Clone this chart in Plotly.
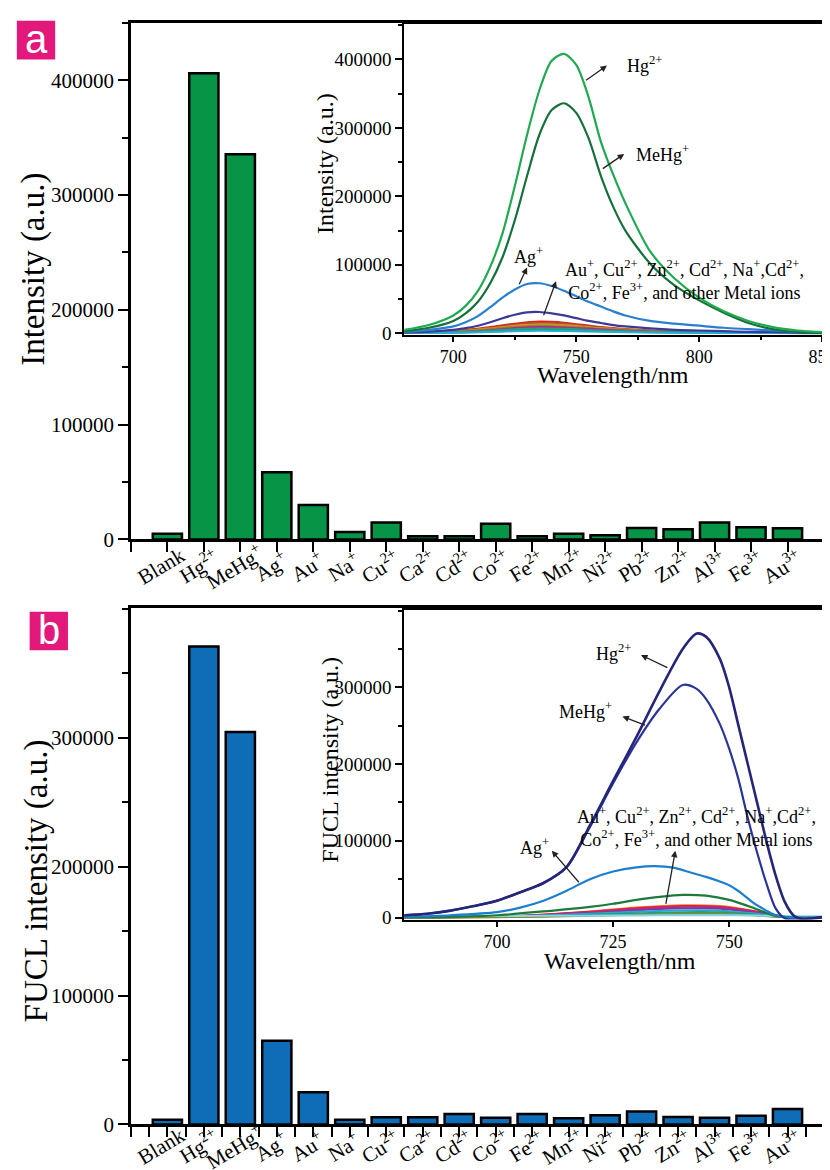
import plotly.graph_objects as go

# ---------------- data ----------------
CATEGORIES = ["Blank", "Hg<sup>2+</sup>", "MeHg<sup>+</sup>", "Ag<sup>+</sup>", "Au<sup>+</sup>",
              "Na<sup>+</sup>", "Cu<sup>2+</sup>", "Ca<sup>2+</sup>", "Cd<sup>2+</sup>", "Co<sup>2+</sup>",
              "Fe<sup>2+</sup>", "Mn<sup>2+</sup>", "Ni<sup>2+</sup>", "Pb<sup>2+</sup>", "Zn<sup>2+</sup>",
              "Al<sup>3+</sup>", "Fe<sup>3+</sup>", "Au<sup>3+</sup>"]
INTENSITY_A = [5000, 406000, 335500, 58500, 30000, 6600, 14700, 2900, 2900, 13800,
               2900, 5000, 3800, 10000, 9000, 14700, 10600, 9700]
FUCL_B = [3600, 371000, 304500, 65000, 25000, 3600, 5600, 5600, 8000, 5200,
          8000, 4700, 7200, 10000, 5700, 5200, 6700, 12000]

# inset a spectra
WL_A = [680, 690, 700, 705, 710, 715, 720, 725, 730, 735, 740, 745, 750, 755, 760, 765, 770,
        780, 790, 800, 810, 820, 830, 840, 850]
HG_A = [5000, 12000, 26000, 40000, 62000, 97000, 146000, 215000, 290000, 355000, 398000, 408000,
        392000, 345000, 280000, 232000, 190000, 120000, 80000, 52000, 32000, 18000, 9000, 4000, 1500]
MEHG_A = [3000, 8000, 18000, 29000, 46000, 73000, 111000, 165000, 230000, 290000, 326000, 336000,
          322000, 285000, 230000, 185000, 150000, 102000, 70000, 48000, 30000, 15000, 6000, 2000, 500]
AG_A = [2000, 5000, 10000, 16000, 25000, 38000, 52000, 64000, 72000, 73000, 69000, 62000, 54000,
        46000, 39000, 32000, 26000, 18000, 14000, 11000, 8000, 6000, 4000, 2500, 1500]
PURPLE_A = [1000, 2500, 5000, 7500, 11000, 16000, 22000, 27000, 30500, 31000, 29000, 26000, 22000,
            18000, 15000, 12000, 10000, 7000, 5000, 4000, 3000, 2000, 1500, 1000, 500]
WL_A_SMALL = [680, 700, 715, 725, 735, 745, 760, 780, 800, 830, 850]
SMALL_A = {
    "#e3241c": [500, 3000, 9000, 14000, 17000, 15500, 9000, 4000, 2000, 800, 300],
    "#a0522d": [500, 2500, 8000, 12500, 15000, 14000, 8500, 3500, 1800, 700, 300],
    "#e08a2a": [400, 2200, 7000, 11000, 13000, 12000, 7500, 3200, 1500, 600, 200],
    "#8a8a1e": [400, 2000, 6000, 9000, 11000, 10000, 6500, 3000, 1500, 600, 200],
    "#c0208a": [300, 1500, 4500, 7500, 9000, 8500, 5500, 2500, 1200, 500, 200],
    "#1aa0a0": [300, 1200, 3500, 6000, 7000, 6500, 4200, 2000, 1000, 400, 100],
    "#2e9b4f": [200, 900, 2500, 4200, 5000, 4700, 3000, 1500, 800, 300, 100],
    "#22b0d8": [200, 700, 1800, 3000, 3500, 3300, 2200, 1100, 600, 200, 100],
}

# inset b spectra
WL_B = [680, 685, 690, 695, 700, 705, 710, 715, 720, 725, 730, 735, 740, 743, 745, 748,
        750, 752, 754, 756, 758, 760, 762, 764, 766, 770]
HG_B = [3000, 5000, 9000, 15000, 22000, 33000, 45000, 66000, 120000, 178000, 235000, 295000,
        350000, 370000, 366000, 337000, 300000, 250000, 200000, 150000, 100000, 55000, 20000,
        2000, -2000, 500]
MEHG_B = [3000, 5000, 9000, 15000, 22000, 33000, 45000, 66000, 118000, 175000, 228000, 272000,
          303000, 298000, 285000, 252000, 220000, 180000, 130000, 85000, 45000, 12000, -1000,
          -3000, -2000, 500]
WL_B_AG = [680, 690, 700, 705, 710, 715, 720, 725, 730, 734, 738, 742, 745, 748, 750, 753,
           755, 758, 760, 763, 770]
AG_B = [1000, 3000, 7000, 13000, 22000, 35000, 50000, 60000, 65500, 67000, 65000, 58000,
        53000, 47000, 42000, 30000, 20000, 9000, 3000, 0, 0]
WL_B_GREEN = [680, 690, 700, 710, 720, 725, 730, 735, 740, 745, 750, 755, 758, 760, 765, 770]
GREEN_B = [500, 1000, 3000, 8000, 14000, 18000, 23000, 27000, 29500, 28500, 23000, 13000,
           6000, 2000, 0, 0]
WL_B_SMALL = [680, 700, 710, 720, 730, 740, 748, 755, 760, 765, 770]
SMALL_B = {
    "#f08020": [300, 1500, 4000, 8000, 13000, 16000, 15000, 9000, 3000, 0, 0],
    "#e02020": [300, 1400, 3800, 7500, 12000, 15000, 14000, 8500, 2800, 0, 0],
    "#d0208a": [300, 1300, 3500, 7000, 11000, 14000, 13000, 8000, 2600, 0, 0],
    "#7a3aa0": [200, 1100, 3000, 6000, 9500, 12000, 11500, 7000, 2300, 0, 0],
    "#2aa8d8": [200, 900, 2400, 4800, 7500, 9500, 9000, 5500, 1800, 0, 0],
    "#1aa08a": [200, 700, 1800, 3600, 5500, 7000, 6800, 4200, 1400, 0, 0],
    "#8a8a20": [100, 500, 1200, 2400, 3800, 5000, 4800, 3000, 1000, 0, 0],
    "#7fd8f0": [2000, 2000, 2200, 2500, 2800, 3000, 3000, 2600, 2000, 1800, 1800],
}

# ---------------- figure ----------------
W, H = 830, 1170
SERIF = "Liberation Serif"
GREEN = "#079447"
BLUE = "#0f6cb6"
PINK = "#e2187b"


def px(xp):
    return xp / W


def py(yp):
    return 1 - yp / H


fig = go.Figure()
idx = list(range(len(CATEGORIES)))

fig.add_trace(go.Bar(x=idx, y=INTENSITY_A, width=0.8, marker=dict(color=GREEN, line=dict(color="black", width=2.5)),
                     xaxis="x", yaxis="y"))
fig.add_trace(go.Bar(x=idx, y=FUCL_B, width=0.8, marker=dict(color=BLUE, line=dict(color="black", width=2.5)),
                     xaxis="x2", yaxis="y2"))


def line(x, y, color, xa, ya, w=2.2):
    fig.add_trace(go.Scatter(x=x, y=y, mode="lines", line=dict(color=color, width=w, shape="spline", smoothing=0.8),
                             xaxis=xa, yaxis=ya, hoverinfo="skip"))


for c, v in SMALL_A.items():
    line(WL_A_SMALL, v, c, "x3", "y3", 2)
line(WL_A, PURPLE_A, "#3b3a95", "x3", "y3")
line(WL_A, AG_A, "#2b7fd0", "x3", "y3")
line(WL_A, MEHG_A, "#16703a", "x3", "y3")
line(WL_A, HG_A, "#1faa4f", "x3", "y3")

for c, v in SMALL_B.items():
    line(WL_B_SMALL, v, c, "x4", "y4", 2)
line(WL_B_GREEN, GREEN_B, "#1d7a3c", "x4", "y4")
line(WL_B_AG, AG_B, "#1b7fd0", "x4", "y4")
line(WL_B, MEHG_B, "#2b3595", "x4", "y4")
line(WL_B, HG_B, "#25267a", "x4", "y4", 2.6)

axis_common = dict(showline=True, linecolor="black", showgrid=False, zeroline=False,
                   ticks="outside", tickcolor="black", ticklabeloverflow="allow")

main_xdom = [px(125), 1.0]
inset_xdom = [px(403), px(828)]

fig.update_layout(
    width=W, height=H, margin=dict(l=0, r=0, t=0, b=0),
    paper_bgcolor="white", plot_bgcolor="white", showlegend=False,
    font=dict(family=SERIF, color="black"),
    xaxis=dict(**axis_common, domain=main_xdom, anchor="y", range=[-1, 18], linewidth=2.5, mirror=True,
               tickvals=list(range(-1, 18)), showticklabels=False, ticklen=10, tickwidth=2),
    yaxis=dict(**axis_common, domain=[py(537), py(15)], anchor="x", range=[0, 450000], linewidth=2.5,
               tickvals=[0, 100000, 200000, 300000, 400000],
               ticktext=["0", "100000", "200000", "300000", "400000"],
               ticklen=10, tickwidth=2, tickfont=dict(size=21),
               minor=dict(ticks="outside", dtick=50000, tick0=0, ticklen=6, tickwidth=2, tickcolor="black")),
    xaxis2=dict(**axis_common, domain=main_xdom, anchor="y2", range=[-1, 18], linewidth=2.5, mirror=True,
                tickvals=[i / 2 for i in range(-2, 36)], showticklabels=False, ticklen=10, tickwidth=2),
    yaxis2=dict(**axis_common, domain=[py(1128), py(606)], anchor="x2", range=[0, 401000], linewidth=2.5,
                tickvals=[0, 100000, 200000, 300000],
                ticktext=["0", "100000", "200000", "300000"],
                ticklen=10, tickwidth=2, tickfont=dict(size=21),
                minor=dict(ticks="outside", dtick=50000, tick0=0, ticklen=6, tickwidth=2, tickcolor="black")),
    xaxis3=dict(**axis_common, domain=inset_xdom, anchor="y3", range=[680, 850], linewidth=2, mirror=True,
                tickvals=[700, 750, 800, 850], ticklen=5, tickwidth=1.5, tickfont=dict(size=18),
                minor=dict(ticks="outside", dtick=25, tick0=675, ticklen=3, tickwidth=1.5, tickcolor="black")),
    yaxis3=dict(**axis_common, domain=[py(330), py(16)], anchor="x3", range=[-2000, 452000], linewidth=2,
                mirror=True, tickvals=[0, 100000, 200000, 300000, 400000],
                ticktext=["0", "100000", "200000", "300000", "400000"],
                ticklen=7, tickwidth=1.5, tickfont=dict(size=19),
                minor=dict(ticks="outside", dtick=50000, tick0=0, ticklen=4, tickwidth=1.5, tickcolor="black")),
    xaxis4=dict(**axis_common, domain=inset_xdom, anchor="y4", range=[680, 770], linewidth=2, mirror=True,
                tickvals=[700, 725, 750], ticklen=5, tickwidth=1.5, tickfont=dict(size=18)),
    yaxis4=dict(**axis_common, domain=[py(921), py(608)], anchor="x4", range=[-2600, 401000], linewidth=2,
                mirror=True, tickvals=[0, 100000, 200000, 300000],
                ticktext=["0", "100000", "200000", "300000"],
                ticklen=7, tickwidth=1.5, tickfont=dict(size=19),
                minor=dict(ticks="outside", dtick=50000, tick0=0, ticklen=4, tickwidth=1.5, tickcolor="black")),
)

ann = []
CENTER = dict(xanchor="center", yanchor="middle", showarrow=False)
# rotated category labels
for xa, ylab in (("x", 564), ("x2", 1150)):
    for i, lab in enumerate(CATEGORIES):
        ann.append(dict(text=lab, x=i - 0.16, y=py(ylab), xref=xa, yref="paper",
                        textangle=-31, font=dict(size=21), **CENTER))

# axis titles
ann += [
    dict(text="Intensity (a.u.)", x=px(26), y=py(264), xref="paper", yref="paper",
         textangle=-90, font=dict(size=33), **CENTER),
    dict(text="FUCL intensity (a.u.)", x=px(29), y=py(882), xref="paper", yref="paper",
         textangle=-90, font=dict(size=33), **CENTER),
    dict(text="Intensity (a.u.)", x=px(323), y=py(157), xref="paper", yref="paper",
         textangle=-90, font=dict(size=24), **CENTER),
    dict(text="FUCL intensity (a.u.)", x=px(328), y=py(759), xref="paper", yref="paper",
         textangle=-90, font=dict(size=24), **CENTER),
    dict(text="Wavelength/nm", x=px(615), y=py(371), xref="paper", yref="paper",
         font=dict(size=24), **CENTER),
    dict(text="Wavelength/nm", x=px(622), y=py(963), xref="paper", yref="paper",
         font=dict(size=24), **CENTER),
]

# panel letters
for letter, x0, y0 in (("a", 9, 13), ("b", 22, 610)):
    fig.add_shape(type="rect", xref="paper", yref="paper", x0=px(x0), x1=px(x0 + 39), y0=py(y0 + 39), y1=py(y0),
                  fillcolor=PINK, line=dict(width=0))
    ann.append(dict(text=letter, x=px(x0 + 19.5), y=py(y0 + 18), xref="paper", yref="paper",
                    font=dict(size=40, color="white", family="Liberation Sans"), **CENTER))

OTHERS = ("Au<sup>+</sup>, Cu<sup>2+</sup>, Zn<sup>2+</sup>, Cd<sup>2+</sup>, Na<sup>+</sup>,Cd<sup>2+</sup>,<br>"
          "Co<sup>2+</sup>, Fe<sup>3+</sup>, and other Metal ions")
LBL = dict(size=18)


def label(text, x, y, xa, ya, xanchor="center"):
    ann.append(dict(text=text, x=x, y=y, xref=xa, yref=ya, showarrow=False, xanchor=xanchor,
                    yanchor="middle", font=LBL))


def arrow(x0, y0, x1, y1, xa, ya):
    ann.append(dict(text="", x=x1, y=y1, ax=x0, ay=y0, xref=xa, yref=ya, axref=xa, ayref=ya,
                    showarrow=True, arrowhead=2, arrowsize=1, arrowwidth=1.3, arrowcolor="#222",
                    standoff=0, startstandoff=0))


# inset a labels
label("Hg<sup>2+</sup>", 769.8, 392000, "x3", "y3", "left")
arrow(753.4, 368000, 762.5, 391000, "x3", "y3")
label("MeHg<sup>+</sup>", 773.5, 263000, "x3", "y3", "left")
arrow(760.2, 239000, 769.5, 262000, "x3", "y3")
label("Ag<sup>+</sup>", 730.5, 113000, "x3", "y3")
arrow(726.5, 69500, 730, 96000, "x3", "y3")
label(OTHERS, 794, 78000, "x3", "y3")
arrow(736.5, 24000, 741.8, 76000, "x3", "y3")

# inset b labels
label("Hg<sup>2+</sup>", 725, 345000, "x4", "y4")
arrow(737, 324800, 731, 342000, "x4", "y4")
label("MeHg<sup>+</sup>", 719, 270000, "x4", "y4")
arrow(732.2, 250000, 727, 262000, "x4", "y4")
label("Ag<sup>+</sup>", 708, 93000, "x4", "y4")
arrow(717.9, 44000, 711.8, 87000, "x4", "y4")
label(OTHERS, 743, 118000, "x4", "y4")
arrow(736.3, 16000, 738.4, 87000, "x4", "y4")

fig.update_layout(annotations=ann)
fig.write_html("out.html")
